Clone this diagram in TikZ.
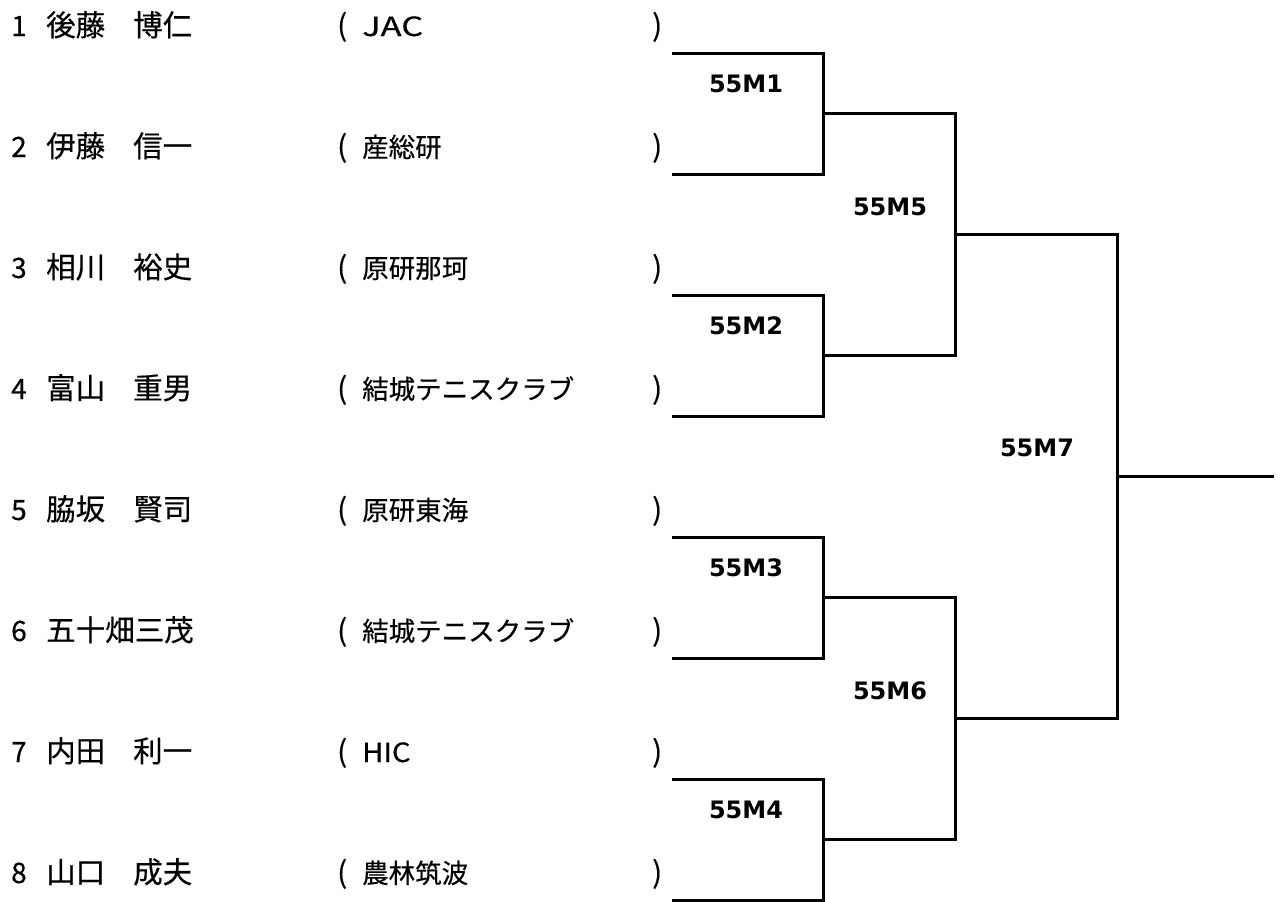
\documentclass[tikz,border=0pt]{standalone}
\usepackage{fontspec}
\usetikzlibrary{calc}
\newfontfamily\jp{Noto Sans CJK JP}[FakeBold=0.4]
\newfontfamily\lblfont{DejaVu Sans}
\begin{document}
\begin{tikzpicture}[x=1pt,y=-1pt,
  txt/.style={anchor=base west,inner sep=0pt,font=\jp\fontsize{29.5}{29.5}\selectfont},
  club/.style={anchor=base west,inner sep=0pt,font=\jp\fontsize{26.5}{26.5}\selectfont},
  num/.style={anchor=base west,inner sep=0pt,font=\jp\fontsize{28}{28}\selectfont},
  mlabel/.style={inner sep=0pt,font=\lblfont\bfseries\fontsize{24}{24}\selectfont},
  br/.style={line width=3pt,line cap=rect,line join=miter}]
\useasboundingbox (0,0) rectangle (1280,902);
% player rows
\foreach \i/\fam/\giv/\club in {1/後藤/博仁/\scalebox{1.3}[1]{JAC},2/伊藤/信一/産総研,3/相川/裕史/原研那珂,4/富山/重男/結城テニスクラブ,5/脇坂/賢司/原研東海,6/五十畑三茂//結城テニスクラブ,7/内田/利一/\scalebox{1.1}[1]{HIC},8/山口/成夫/農林筑波}{
  \pgfmathsetmacro{\yb}{36+121*(\i-1)}
  \node[num] (n\i) at (11,\yb) {\i};
  \node[txt] (fn\i) at (46,\yb) {\fam};
  \node[txt] (gn\i) at (133,\yb) {\giv};
  \node[txt] (lp\i) at (337,\yb) {(};
  \node[club] (cl\i) at (362,\yb) {\club};
  \node[txt] (rp\i) at (652,\yb) {)};
  \pgfmathsetmacro{\yl}{53+121*(\i-1)}
  \coordinate (s\i) at (673,\yl);
  \coordinate (e\i) at (823,\yl);
}
% first round
\foreach \a/\b/\m in {1/2/1,3/4/2,5/6/3,7/8/4}{
  \draw[br] (s\a) -- (e\a) -- (e\b) -- (s\b);
  \coordinate (j\m) at ($(e\a)!0.5!(e\b)$);
  \coordinate (k\m) at ($(j\m)+(132,0)$);
}
% semifinals
\foreach \a/\b/\m in {1/2/5,3/4/6}{
  \draw[br] (j\a) -- (k\a) -- (k\b) -- (j\b);
  \coordinate (j\m) at ($(k\a)!0.5!(k\b)$);
  \coordinate (k\m) at ($(j\m)+(162,0)$);
}
% final
\draw[br] (j5) -- (k5) -- (k6) -- (j6);
\coordinate (j7) at ($(k5)!0.5!(k6)$);
\coordinate (k7) at ($(j7)+(155,0)$);
\draw[br] (j7) -- (k7);
% labels
\node[mlabel] (m1) at (746,84) {55M1};
\node[mlabel] (m2) at (746,326) {55M2};
\node[mlabel] (m3) at (746,568) {55M3};
\node[mlabel] (m4) at (746,810) {55M4};
\node[mlabel] (m5) at (890,207) {55M5};
\node[mlabel] (m6) at (890,691) {55M6};
\node[mlabel] (m7) at (1037,448) {55M7};
\end{tikzpicture}
\end{document}
